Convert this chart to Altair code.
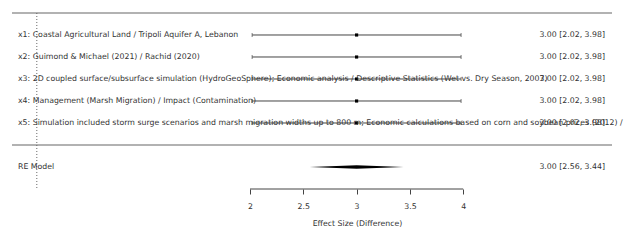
import altair as alt
import pandas as pd

labels = [
    "x1: Coastal Agricultural Land / Tripoli Aquifer A, Lebanon",
    "x2: Guimond & Michael (2021) / Rachid (2020)",
    "x3: 2D coupled surface/subsurface simulation (HydroGeoSphere); Economic analysis / Descriptive Statistics (Wet vs. Dry Season, 2007)",
    "x4: Management (Marsh Migration) / Impact (Contamination)",
    "x5: Simulation included storm surge scenarios and marsh migration widths up to 800 m; Economic calculations based on corn and soybean prices (2012) / groundwater",
]
est = [3.00, 3.00, 3.00, 3.00, 3.00]
ci_lo = [2.02, 2.02, 2.02, 2.02, 2.02]
ci_hi = [3.98, 3.98, 3.98, 3.98, 3.98]
rows = [5, 4, 3, 2, 1]

re_label = "RE Model"
re_est, re_lo, re_hi = 3.00, 2.56, 3.44
re_row = -1

x_ticks = [2, 2.5, 3, 3.5, 4]
x_title = "Effect Size (Difference)"

FONT = "DejaVu Sans"
FS = 7.8
TXT = "#333333"
LINE = "#444444"

df = pd.DataFrame({
    "label": labels, "est": est, "lo": ci_lo, "hi": ci_hi, "row": rows,
    "ann": [f"{e:.2f} [{l:.2f}, {h:.2f}]" for e, l, h in zip(est, ci_lo, ci_hi)],
})
re_df = pd.DataFrame({"label": [re_label], "row": [re_row],
                      "ann": [f"{re_est:.2f} [{re_lo:.2f}, {re_hi:.2f}]"]})

xs = alt.Scale(domain=[-0.3452, 5.5084], nice=False, zero=False)
ys = alt.Scale(domain=[-2, 6.5909], nice=False, zero=False)

AX = alt.Axis(values=x_ticks, labelExpr="toString(datum.value)", domain=False, grid=False,
              tickSize=5, tickColor=LINE, labelFont=FONT, labelFontSize=FS,
              labelColor=TXT, labelPadding=8, title=x_title,
              titleFont=FONT, titleFontSize=FS, titleFontWeight="normal",
              titleColor=TXT, titleX=357, titleY=34,
              titleBaseline="middle", titleAnchor="middle", titleAlign="center")

X = lambda f: alt.X(f, type="quantitative", scale=xs, axis=AX)
Y = lambda f: alt.Y(f, type="quantitative", scale=ys, axis=None)

base = alt.Chart(df)

whisk = base.mark_rule(color=LINE, strokeWidth=1).encode(x=X("lo"), x2="hi", y=Y("row"))
cap_lo = base.mark_tick(orient="vertical", size=4, thickness=1, color=LINE).encode(x=X("lo"), y=Y("row"))
cap_hi = base.mark_tick(orient="vertical", size=4, thickness=1, color=LINE).encode(x=X("hi"), y=Y("row"))
pts = base.mark_square(size=10, color="black", opacity=1).encode(x=X("est"), y=Y("row"))
left_txt = base.mark_text(align="left", baseline="middle", font=FONT, fontSize=FS, color=TXT).encode(
    x=alt.value(18), y=Y("row"), text="label")
right_txt = base.mark_text(align="right", baseline="middle", font=FONT, fontSize=FS, color=TXT).encode(
    x=alt.value(605), y=Y("row"), text="ann")

re_base = alt.Chart(re_df)
re_left = re_base.mark_text(align="left", baseline="middle", font=FONT, fontSize=FS, color=TXT).encode(
    x=alt.value(18), y=Y("row"), text="label")
re_right = re_base.mark_text(align="right", baseline="middle", font=FONT, fontSize=FS, color=TXT).encode(
    x=alt.value(605), y=Y("row"), text="ann")

h = 0.08
dia_df = pd.DataFrame({
    "x": [re_lo, re_est, re_hi],
    "y1": [re_row, re_row + h, re_row],
    "y2": [re_row, re_row - h, re_row],
})
diamond = alt.Chart(dia_df).mark_area(color="black", orient="vertical").encode(
    x=X("x"), y=Y("y1"), y2="y2")

hlines = alt.Chart(pd.DataFrame({"row": [6, 0]})).mark_rule(color="#666666", strokeWidth=1.2).encode(
    x=alt.value(12), x2=alt.value(612), y=Y("row"))

refline = alt.Chart(pd.DataFrame({"x": [0.0], "r1": [6], "r2": [-2]})).mark_rule(
    color="#666666", strokeWidth=1, strokeDash=[1, 2]).encode(x=X("x"), y=Y("r1"), y2="r2")

axis_line = alt.Chart(pd.DataFrame({"a": [float(min(x_ticks))], "b": [float(max(x_ticks))], "r": [-2]})).mark_rule(
    color=LINE, strokeWidth=1).encode(x=X("a"), x2="b", y=Y("r"))

chart = alt.layer(
    whisk, hlines, refline, cap_lo, cap_hi, pts, diamond, axis_line,
    left_txt, right_txt, re_left, re_right,
).properties(
    width=624, height=189,
    autosize=alt.AutoSizeParams(type="none"),
    padding={"left": 0, "top": 0, "right": 0, "bottom": 59},
    background="white",
).configure_view(stroke=None, clip=False)

chart.save("out.html", embed_options={"renderer": "svg", "actions": False})
